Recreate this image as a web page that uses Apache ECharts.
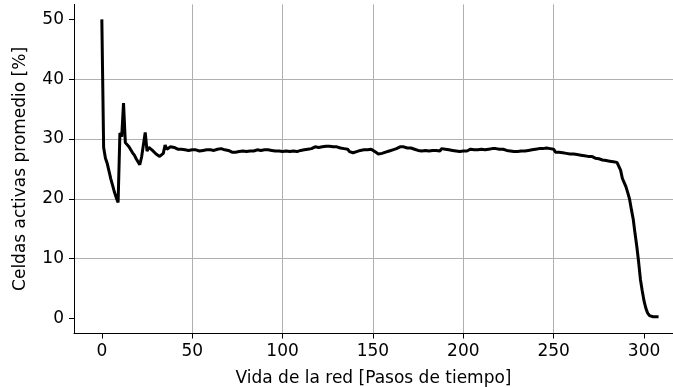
<!DOCTYPE html>
<html>
<head>
<meta charset="utf-8">
<script src="https://cdn.jsdelivr.net/npm/echarts@6/dist/echarts.min.js"></script>
<style>
html,body{margin:0;padding:0;background:#fff;}
#chart{width:673px;height:387px;}
</style>
</head>
<body>
<div id="chart"></div>
<script>
// Time steps 0..308 (one value per step)
const activeCells = [
  50.0, 28.6, 26.8, 25.9, 24.6, 23.3, 22.2, 21.1, 20.2, 19.4,
  31.0, 30.4, 36.0, 29.4, 29.2, 28.7, 28.2, 27.7, 27.3, 26.7,
  26.2, 25.7, 27.0, 27.3, 31.1, 28.0, 28.6, 28.3, 28.1, 27.8,
  27.5, 27.3, 27.1, 27.4, 27.6, 29.0, 28.3, 28.6, 28.7, 28.6,
  28.6, 28.4, 28.3, 28.1, 28.3, 28.0, 28.2, 27.9, 28.1, 27.9,
  28.2, 27.9, 28.2, 27.9, 28.0, 27.8, 28.1, 27.9, 28.2, 28.0,
  28.2, 28.3, 28.1, 28.4, 28.3, 28.6, 28.4, 28.5, 28.2, 28.3,
  28.1, 28.2, 27.8, 28.0, 27.8, 28.1, 27.9, 28.2, 28.0, 28.2,
  27.9, 28.1, 28.0, 28.2, 28.0, 28.1, 28.2, 28.4, 28.1, 28.3,
  28.2, 28.4, 28.2, 28.4, 28.1, 28.3, 28.0, 28.2, 28.0, 28.1,
  27.9, 28.2, 28.0, 28.1, 27.9, 28.2, 28.0, 28.1, 27.9, 28.2,
  28.1, 28.3, 28.2, 28.5, 28.3, 28.6, 28.4, 28.5, 28.7, 28.4,
  28.6, 28.5, 28.7, 28.5, 28.8, 28.6, 28.8, 28.6, 28.7, 28.5,
  28.7, 28.4, 28.5, 28.2, 28.4, 28.1, 28.3, 27.9, 28.0, 27.7,
  27.9, 27.9, 28.2, 28.1, 28.4, 28.2, 28.4, 28.2, 28.4, 28.3,
  28.3, 27.9, 27.8, 27.5, 27.7, 27.6, 27.9, 27.8, 28.1, 28.0,
  28.3, 28.2, 28.5, 28.4, 28.6, 28.7, 29.0, 28.7, 28.8, 28.5,
  28.7, 28.5, 28.6, 28.3, 28.4, 28.1, 28.3, 28.0, 28.3, 28.1,
  28.2, 28.0, 28.2, 28.1, 28.4, 28.1, 28.2, 28.0, 28.4, 28.2,
  28.3, 28.0, 28.2, 28.4, 28.1, 28.3, 28.0, 28.2, 27.9, 28.1,
  28.0, 28.3, 28.0, 28.2, 28.3, 28.1, 28.2, 28.0, 28.2, 28.1,
  28.3, 28.0, 28.2, 28.1, 28.3, 28.2, 28.4, 28.3, 28.4, 28.1,
  28.3, 28.2, 28.3, 28.0, 28.1, 27.8, 28.0, 27.7, 27.9, 27.7,
  27.9, 27.7, 28.0, 27.8, 28.0, 27.8, 28.1, 27.9, 28.2, 28.1,
  28.3, 28.1, 28.4, 28.2, 28.4, 28.3, 28.5, 28.3, 28.4, 28.2,
  28.3, 27.8, 28.0, 27.8, 27.9, 27.7, 27.9, 27.6, 27.8, 27.5,
  27.7, 27.5, 27.6, 27.4, 27.6, 27.3, 27.4, 27.2, 27.4, 27.1,
  27.3, 27.1, 27.0, 26.8, 26.9, 26.7, 26.9, 26.5, 26.7, 26.4,
  26.5, 26.3, 26.5, 26.2, 26.4, 26.1, 26.0, 24.8, 23.4, 22.7,
  22.0, 21.0, 19.9, 18.2, 16.6, 14.2, 12.0, 9.4, 6.5, 4.6,
  2.9, 1.7, 0.9, 0.5, 0.3, 0.3, 0.3, 0.3, 0.3
];
const xTicks = [0, 50, 100, 150, 200, 250, 300];
const yTicks = [0, 10, 20, 30, 40, 50];
const xLabel = 'Vida de la red [Pasos de tiempo]';
const yLabel = 'Celdas activas promedio [%]';

const seriesData = activeCells.map((v, i) => [i, v]);
const font = 'DejaVu Sans';
const fs = 17;

const chart = echarts.init(document.getElementById('chart'), null, {renderer: 'canvas'});
chart.setOption({
  animation: false,
  backgroundColor: '#ffffff',
  grid: {left: 74, top: 4.4, right: 0, bottom: 53.5, containLabel: false, outerBoundsMode: 'none'},
  xAxis: {
    type: 'value',
    min: -15.4,
    max: 316,
    name: xLabel,
    nameLocation: 'middle',
    nameGap: 37,
    nameTextStyle: {fontFamily: font, fontSize: fs, color: '#000'},
    axisLine: {show: true, onZero: false, lineStyle: {color: '#000', width: 1}},
    axisTick: {show: true, inside: false, length: 5, lineStyle: {color: '#000', width: 1}, customValues: xTicks},
    axisLabel: {fontFamily: font, fontSize: fs, color: '#000', margin: 10, customValues: xTicks},
    splitLine: {show: true, showMinLine: false, showMaxLine: false, lineStyle: {color: '#b0b0b0', width: 1}}
  },
  yAxis: {
    type: 'value',
    min: -2.5,
    max: 52.5,
    name: yLabel,
    nameLocation: 'middle',
    nameGap: 45,
    nameTextStyle: {fontFamily: font, fontSize: fs, color: '#000'},
    axisLine: {show: true, onZero: false, lineStyle: {color: '#000', width: 1}},
    axisTick: {show: true, inside: false, length: 5, lineStyle: {color: '#000', width: 1}, customValues: yTicks},
    axisLabel: {fontFamily: font, fontSize: fs, color: '#000', margin: 10, customValues: yTicks},
    splitLine: {show: true, showMinLine: false, showMaxLine: false, lineStyle: {color: '#b0b0b0', width: 1}}
  },
  series: [{
    type: 'line',
    data: seriesData,
    showSymbol: false,
    symbol: 'none',
    lineStyle: {color: '#000', width: 3},
    clip: true
  }]
});
</script>
</body>
</html>
